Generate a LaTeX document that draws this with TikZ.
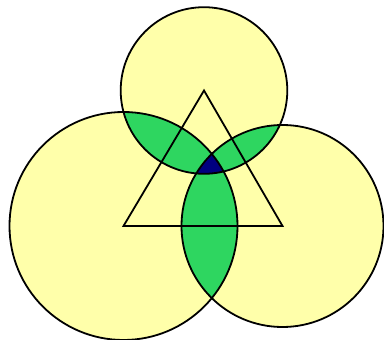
\documentclass[tikz,border=0pt]{standalone}
\usepackage{tikz}
\definecolor{venyellow}{RGB}{255,255,170}
\definecolor{vengreen}{RGB}{46,214,96}
\definecolor{vennavy}{RGB}{0,0,128}
\begin{document}
\begin{tikzpicture}[x=1pt,y=-1pt,
  outline/.style={draw=black,line width=1.8pt}]
\useasboundingbox (0,0) rectangle (384,340);
\fill[white] (0,0) rectangle (384,340);
\coordinate (T) at (204,90.5);
\coordinate (L) at (123.5,226);
\coordinate (R) at (282.5,226);
\def\rT{83.3}
\def\rL{114}
\def\rR{101}
% yellow discs
\fill[venyellow] (T) circle (\rT);
\fill[venyellow] (L) circle (\rL);
\fill[venyellow] (R) circle (\rR);
% pairwise intersections
\begin{scope}
  \clip (T) circle (\rT);
  \fill[vengreen] (L) circle (\rL);
  \fill[vengreen] (R) circle (\rR);
\end{scope}
\begin{scope}
  \clip (L) circle (\rL);
  \fill[vengreen] (R) circle (\rR);
\end{scope}
% triple intersection
\begin{scope}
  \clip (T) circle (\rT);
  \clip (L) circle (\rL);
  \fill[vennavy] (R) circle (\rR);
\end{scope}
% outlines
\draw[outline] (T) circle (\rT);
\draw[outline] (L) circle (\rL);
\draw[outline] (R) circle (\rR);
\draw[outline,line join=miter] (T) -- (L) -- (R) -- cycle;
\end{tikzpicture}
\end{document}
